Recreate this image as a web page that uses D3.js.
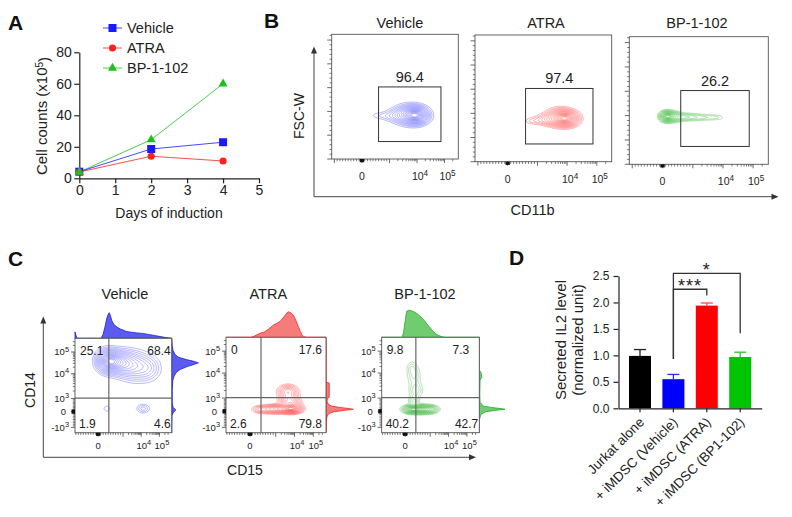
<!DOCTYPE html>
<html><head><meta charset="utf-8">
<script src="https://cdn.jsdelivr.net/npm/d3@7"></script>
<style>
body{margin:0;background:#fff;}
svg{display:block;}
</style></head><body>
<svg id="fig" width="792" height="517"></svg>
<script>
// ================= DATA =================
// Panel A
const days = [0, 2, 4];
const dayTicks = [0, 1, 2, 3, 4, 5];
const countTicks = [0, 20, 40, 60, 80];
const seriesNames = ["Vehicle", "ATRA", "BP-1-102"];
const vehicleCounts = [4.2, 18.6, 22.9];
const atraCounts = [4.0, 14.0, 11.0];
const bpCounts = [4.0, 24.5, 60.0];

// Panel B (CD11b vs FSC-W, display channel 0-100)
const treatments = ["Vehicle", "ATRA", "BP-1-102"];
const cd11bPercent = [96.4, 97.4, 26.2];
const cd11bGate = [37, 86.3, 14, 57.8];           // x0, x1, y0, y1 (channel)
// population components: [cx, cy, sx, sy, weight]
const vehicleCd11b = [[67,35,5,3.5,1.0],[61,35.5,6,4,0.55],[53,35,6,3,0.15],[44,34.5,6,2,0.05],[36,35,4,1.6,0.025]];
const atraCd11b    = [[67,34,4.5,3,1.0],[62,35,5,3.5,0.6],[55,33.5,5,2.5,0.25],[47,32.5,5,1.8,0.08],[41,32,3,1.5,0.03]];
const bpCd11b      = [[27,37.5,2.5,2,1.0],[31,37.3,3.5,2,0.5],[40,37,6,1.6,0.18],[52,36.8,6,1.4,0.08],[62,36.7,4,1.3,0.05]];
const bXAnchors = [[-1000,2.1],[0,23.9],[1000,45.7],[1e4,67.4],[1e5,89.1]];
const bYTicks = [0,10000,20000,30000,40000,50000,60000,70000,80000,90000,100000,110000,120000,130000,140000,150000,160000,170000,180000,190000,200000,210000,220000,230000,240000,250000,260000];
const bYMax = 262144;

// Panel C (CD15 vs CD14)
const quadVehicle = [25.1, 68.4, 1.9, 4.6];   // UL, UR, LL, LR
const quadAtra    = [0, 17.6, 2.6, 79.8];
const quadBp      = [9.8, 7.3, 40.2, 42.7];
const quadGate = [35, 36.7];                    // x, y channel
const vehicleCd15 = [[34,76,6,6,1.0],[42,75,7,6,0.75],[52,73,8,7,0.5],[64,70,9,8,0.32],[76,68,7,7,0.15],[33,25.5,2.5,2.2,0.06],[70.5,25.5,4,2.8,0.12]];
const atraCd15    = [[62,43,5,3.5,0.42],[63,35,5,3.5,0.4],[65,29,5,3,0.45],[66,25,5,2.3,1.0],[55,25,7,2.3,0.6],[43,24.5,7,2.2,0.3],[34,24.5,4,2,0.12]];
const bpCd15      = [[39,24.5,7,2.2,1.0],[30,24.5,4,2,0.6],[50,24.5,4,2,0.3],[33,33,3,4,0.12],[35,45,4,5,0.1],[33,60,4,6,0.08],[31,68,3,4,0.06]];
// histograms: [channel, relative count]
const vehicleCd15Hist = [[0,0.25],[1.5,0.05],[3,0],[27,0],[29,0.15],[31,0.45],[33,0.8],[34.5,0.95],[35.5,1.0],[36.5,0.9],[38,0.7],[40,0.55],[43,0.45],[47,0.36],[53,0.27],[58,0.24],[64,0.21],[70,0.19],[76,0.15],[82,0.11],[88,0.07],[94,0.03],[100,0]];
const vehicleCd14Hist = [[0,0],[10,0],[18,0.01],[21,0.05],[24,0.15],[27,0.05],[32,0.02],[45,0.02],[55,0.04],[60,0.09],[64,0.18],[67,0.32],[70,0.58],[72.5,0.86],[74,1.0],[75.5,0.85],[77.5,0.55],[80,0.25],[83,0.12],[87,0.05],[92,0.02],[100,0]];
const atraCd15Hist = [[0,0],[25,0],[28,0.04],[31,0.1],[34,0.16],[38,0.2],[42,0.3],[45,0.4],[47.5,0.48],[51,0.55],[54,0.62],[57,0.75],[59.5,0.88],[62,1.0],[64,0.97],[66,0.92],[68,0.82],[70,0.65],[72,0.45],[74,0.26],[76,0.1],[78,0.02],[81,0],[100,0]];
const atraCd14Hist = [[0,0],[12,0.01],[17,0.04],[20,0.1],[22,0.3],[23.5,0.7],[24.5,1.0],[25.3,0.85],[26.5,0.5],[28,0.2],[30,0.08],[33,0.04],[36,0.05],[37,0.12],[52,0.12],[53,0],[100,0]];
const bpCd15Hist = [[0,0],[21,0],[22.5,0.2],[24,0.6],[25.5,0.95],[28,1.0],[31,0.96],[34,0.92],[37.5,0.83],[41,0.72],[44,0.6],[46,0.5],[49,0.38],[52,0.25],[55,0.14],[58,0.07],[62,0.02],[65,0],[100,0]];
const bpCd14Hist = [[0,0],[14,0.01],[19,0.06],[22,0.25],[23.5,0.65],[24.5,1.0],[25.3,0.85],[26.5,0.45],[28,0.15],[32,0.03],[40,0.02],[55,0.03],[58,0.1],[62,0.08],[66,0],[100,0]];
const cXAnchors = [[-1000,-1.7],[0,24],[1000,49.7],[1e4,68.5],[1e5,87.3]];
const cYAnchors = [[-1000,5.6],[0,22.4],[1000,36.3],[1e4,62.5],[1e5,85.5]];

// Panel D
const il2Groups = ["Jurkat alone", "+ iMDSC (Vehicle)", "+ iMDSC (ATRA)", "+ iMDSC (BP1-102)"];
const il2Mean = [0.99, 0.55, 1.94, 0.97];
const il2Sem  = [0.12, 0.09, 0.05, 0.09];
const il2Ticks = [0, 0.5, 1.0, 1.5, 2.0, 2.5];
const sigTests = [
  {a: 1, b: 2, label: "***", top: 2.25, fromA: 0.93, fromB: 2.13},
  {a: 1, b: 3, label: "*",   top: 2.55, fromA: 0.93, fromB: 1.42}
];

// ================= DRAWING =================
const FONT = "'Liberation Sans', Arial, Helvetica, sans-serif";
const INK = "#222";
const svg = d3.select("#fig").attr("font-family", FONT);

function txt(g, x, y, s, o = {}) {
  const t = g.append("text").attr("x", x).attr("y", y)
    .attr("font-size", o.size || 14).attr("fill", o.fill || INK)
    .attr("text-anchor", o.anchor || "start");
  if (o.weight) t.attr("font-weight", o.weight);
  if (o.rotate !== undefined) t.attr("transform", `rotate(${o.rotate},${x},${y})`);
  if (o.ls) t.attr("letter-spacing", o.ls);
  t.text(s);
  return t;
}
function styleAxis(sel, fs) {
  sel.attr("font-family", FONT);
  sel.select(".domain").attr("stroke", INK).attr("stroke-width", 1.2);
  sel.selectAll(".tick line").attr("stroke", INK).attr("stroke-width", 1.2);
  sel.selectAll(".tick text").attr("fill", INK).attr("font-size", fs);
}
function arrowHead(g, x, y, dir) {
  const p = dir === "up" ? `M${x},${y} L${x-3},${y+7} L${x+3},${y+7} Z` : `M${x},${y} L${x-7},${y-3} L${x-7},${y+3} Z`;
  g.append("path").attr("d", p).attr("fill", "#333");
}

// ---------- Panel A ----------
const gA = svg.append("g");
const xA = d3.scaleLinear().domain([0, 5]).range([79.3, 259]);
const yA = d3.scaleLinear().domain([0, 80]).range([178.3, 52.3]);
gA.append("g").attr("transform", `translate(0,${yA(0)})`)
  .call(d3.axisBottom(xA).tickValues(dayTicks).tickFormat(d3.format("d")).tickSize(5).tickSizeOuter(0).tickPadding(2))
  .call(styleAxis, 14);
gA.append("g").attr("transform", `translate(${xA(0)},0)`)
  .call(d3.axisLeft(yA).tickValues(countTicks).tickSize(5).tickSizeOuter(0).tickPadding(2.5))
  .call(styleAxis, 14);
const seriesA = [
  {name: seriesNames[0], values: vehicleCounts, color: "#1a1aff", symbol: d3.symbolSquare, size: 64},
  {name: seriesNames[1], values: atraCounts, color: "#ff2020", symbol: d3.symbolCircle, size: 40},
  {name: seriesNames[2], values: bpCounts, color: "#1fbf1f", symbol: d3.symbolTriangle, size: 36}
];
const lineA = d3.line().x((d, i) => xA(days[i])).y(d => yA(d));
seriesA.slice().reverse().forEach(s => {
  gA.append("path").attr("d", lineA(s.values)).attr("fill", "none")
    .attr("stroke", s.color).attr("stroke-width", 1).attr("stroke-opacity", 0.8);
});
seriesA.forEach(s => {
  gA.append("g").selectAll("path").data(s.values).join("path")
    .attr("transform", (d, i) => `translate(${xA(days[i])},${yA(d)})`)
    .attr("d", d3.symbol(s.symbol, s.size)()).attr("fill", s.color);
});
seriesA.forEach((s, i) => {
  const y = 28 + i * 20;
  gA.append("line").attr("x1", 103).attr("x2", 122).attr("y1", y).attr("y2", y)
    .attr("stroke", s.color).attr("stroke-width", 1).attr("stroke-opacity", 0.8);
  gA.append("path").attr("transform", `translate(112.5,${y})`)
    .attr("d", d3.symbol(s.symbol, s.size)()).attr("fill", s.color);
  txt(gA, 127, y + 5, s.name, {size: 14.5});
});
txt(gA, 169, 218, "Days of induction", {size: 14, anchor: "middle"});
{
  const t = gA.append("text").attr("transform", "translate(47,116) rotate(-90)")
    .attr("text-anchor", "middle").attr("font-size", 15).attr("fill", INK);
  t.append("tspan").text("Cell counts (x10");
  t.append("tspan").attr("dy", "-0.45em").attr("font-size", 10).text("5");
  t.append("tspan").attr("dy", "0.45em").text(")");
}
txt(svg, 8, 30, "A", {size: 21, weight: "bold", fill: "#111"});

// ---------- flow helpers ----------
const contourLevels = [0.02, 0.04, 0.065, 0.1, 0.14, 0.19, 0.25, 0.32, 0.4, 0.48, 0.56, 0.64, 0.72, 0.8, 0.87, 0.93];
function anchorMap(anchors, v) {
  for (let a = 0; a < anchors.length - 1; a++) {
    const [v0, c0] = anchors[a], [v1, c1] = anchors[a + 1];
    if (v <= v1 || a === anchors.length - 2) {
      if (Math.abs(v0) <= 1000 && Math.abs(v1) <= 1000) return c0 + (c1 - c0) * (v - v0) / (v1 - v0);
      return c0 + (c1 - c0) * Math.log10(v / v0);
    }
  }
}
function minorTicks(anchors) {
  const out = [];
  for (let a = 0; a < anchors.length - 1; a++) {
    const [v0, c0] = anchors[a], [v1, c1] = anchors[a + 1];
    if (Math.abs(v0) <= 1000 && Math.abs(v1) <= 1000) {
      for (let k = 1; k < 10; k++) out.push(c0 + (c1 - c0) * k / 10);
    } else {
      for (let k = 2; k < 10; k++) out.push(c0 + (c1 - c0) * Math.log10(k));
    }
  }
  const [vl, cl] = anchors[anchors.length - 1], [vp, cp] = anchors[anchors.length - 2];
  for (let k = 2; k < 10; k++) { const c = cl + (cl - cp) * Math.log10(k); if (c <= 98.5) out.push(c); }
  return out.filter(c => c >= 0.5 && c <= 99.5);
}
function drawContours(g, xs, ys, comps, color, op) {
  const n = 200;
  const vals = new Float64Array(n * n);
  let mx = 0;
  for (let j = 0; j < n; j++) {
    const y = (j + 0.5) * 100 / n;
    for (let i = 0; i < n; i++) {
      const x = (i + 0.5) * 100 / n;
      let s = 0;
      for (const [cx, cy, sx, sy, w] of comps) {
        const dx = (x - cx) / sx, dy = (y - cy) / sy;
        s += w * Math.exp(-0.5 * (dx * dx + dy * dy));
      }
      vals[j * n + i] = s;
      if (s > mx) mx = s;
    }
  }
  const cs = d3.contours().size([n, n]).thresholds(contourLevels.map(l => l * mx))(vals);
  const proj = d3.geoTransform({point(x, y) { this.stream.point(xs(x * 100 / n), ys(y * 100 / n)); }});
  const path = d3.geoPath(proj);
  g.append("g").selectAll("path").data(cs).join("path")
    .attr("d", path).attr("fill", "none").attr("stroke", color)
    .attr("stroke-width", 0.5).attr("stroke-opacity", op);
}
function expLabel(g, x, y, base, sup, anchor, size) {
  const t = g.append("text").attr("x", x).attr("y", y).attr("text-anchor", anchor)
    .attr("font-size", size).attr("fill", INK);
  t.append("tspan").text(base);
  if (sup) t.append("tspan").attr("dy", "-0.5em").attr("font-size", size * 0.78).text(sup);
  return t;
}
function frame(g, box) {
  g.append("rect").attr("x", box.x0).attr("y", box.y0)
    .attr("width", box.x1 - box.x0).attr("height", box.y1 - box.y0)
    .attr("fill", "none").attr("stroke", "#555").attr("stroke-width", 0.9);
}
function bottomTicks(g, xs, y, anchors) {
  minorTicks(anchors).forEach(c => g.append("line").attr("x1", xs(c)).attr("x2", xs(c)).attr("y1", y).attr("y2", y + 2.2).attr("stroke", "#444").attr("stroke-width", 0.7));
  anchors.forEach(([v, c]) => { if (c >= 0 && c <= 100) g.append("line").attr("x1", xs(c)).attr("x2", xs(c)).attr("y1", y).attr("y2", y + 4).attr("stroke", "#444").attr("stroke-width", 0.8); });
  const z = xs(anchorMap(anchors, 0));
  g.append("rect").attr("x", z - 2.2).attr("y", y).attr("width", 4.4).attr("height", 3.2).attr("fill", "#111");
}

// ---------- Panel B ----------
const gB = svg.append("g");
const bPanels = [
  {comps: vehicleCd11b, color: "#3535ff", box: {x0: 331.7, x1: 458.3, y0: 34.3, y1: 159}, tx: 400},
  {comps: atraCd11b, color: "#ff2b2b", box: {x0: 475, x1: 611.7, y0: 35, y1: 161.7}, tx: 546},
  {comps: bpCd11b, color: "#2eb52e", box: {x0: 629.3, x1: 768.3, y0: 36.7, y1: 164.3}, tx: 697}
];
bPanels.forEach((p, k) => {
  const b = p.box;
  const xs = d3.scaleLinear().domain([0, 100]).range([b.x0, b.x1]);
  const ys = d3.scaleLinear().domain([0, 100]).range([b.y1, b.y0]);
  drawContours(gB, xs, ys, p.comps, p.color, 0.75);
  frame(gB, b);
  // gate
  gB.append("rect").attr("x", xs(cd11bGate[0])).attr("y", ys(cd11bGate[3]))
    .attr("width", xs(cd11bGate[1]) - xs(cd11bGate[0])).attr("height", ys(cd11bGate[2]) - ys(cd11bGate[3]))
    .attr("fill", "none").attr("stroke", "#333").attr("stroke-width", 1);
  txt(gB, (xs(cd11bGate[0]) + xs(cd11bGate[1])) / 2, ys(cd11bGate[3]) - 5, d3.format(".1f")(cd11bPercent[k]), {size: 14.5, anchor: "middle"});
  // y ticks (linear FSC-W)
  bYTicks.forEach(v => {
    const major = v % 50000 === 0;
    const y = ys(v / bYMax * 100);
    gB.append("line").attr("x1", b.x0 - (major ? 4.5 : 2.2)).attr("x2", b.x0).attr("y1", y).attr("y2", y)
      .attr("stroke", "#444").attr("stroke-width", major ? 0.8 : 0.7);
  });
  bottomTicks(gB, xs, b.y1, bXAnchors);
  expLabel(gB, xs(anchorMap(bXAnchors, 0)), b.y1 + 21, "0", null, "middle", 10.5);
  expLabel(gB, xs(anchorMap(bXAnchors, 1e4)) + 3, b.y1 + 21, "10", "4", "middle", 10.5);
  expLabel(gB, xs(anchorMap(bXAnchors, 1e5)) + 3, b.y1 + 21, "10", "5", "middle", 10.5);
  txt(gB, p.tx, 27.8, treatments[k], {size: 14.5, anchor: "middle"});
});
gB.append("line").attr("x1", 314).attr("x2", 314).attr("y1", 196.7).attr("y2", 50).attr("stroke", "#444").attr("stroke-width", 1);
gB.append("line").attr("x1", 314).attr("x2", 774).attr("y1", 196.7).attr("y2", 196.7).attr("stroke", "#444").attr("stroke-width", 1);
arrowHead(gB, 314, 46.5, "up");
arrowHead(gB, 778.5, 196.7, "right");
txt(gB, 304.3, 116, "FSC-W", {size: 14, anchor: "middle", rotate: -90});
txt(gB, 532.5, 215, "CD11b", {size: 14.5, anchor: "middle"});
txt(svg, 264, 28, "B", {size: 21, weight: "bold", fill: "#111"});

// ---------- Panel C ----------
const gC = svg.append("g");
const cPanels = [
  {comps: vehicleCd15, quad: quadVehicle, topH: vehicleCd15Hist, rightH: vehicleCd14Hist, color: "#3a3aff", fill: "#5b5bef", edge: "#1d1de0",
   box: {x0: 75, x1: 171.7, y0: 338.3, y1: 432.7}, tx: 125, topMax: 25.6, rightMax: 26.6, urOff: 1},
  {comps: atraCd15, quad: quadAtra, topH: atraCd15Hist, rightH: atraCd14Hist, color: "#ff3030", fill: "#f67b7b", edge: "#ff2020",
   box: {x0: 226, x1: 326, y0: 337.3, y1: 432.7}, tx: 268.3, topMax: 25.6, rightMax: 27.3, urOff: 4},
  {comps: bpCd15, quad: quadBp, topH: bpCd15Hist, rightH: bpCd14Hist, color: "#33b533", fill: "#6fcc6f", edge: "#2aaa2a",
   box: {x0: 381.7, x1: 479.3, y0: 337.3, y1: 432.7}, tx: 425, topMax: 27.3, rightMax: 25.7, urOff: 6}
];
cPanels.forEach((p, k) => {
  const b = p.box;
  const xs = d3.scaleLinear().domain([0, 100]).range([b.x0, b.x1]);
  const ys = d3.scaleLinear().domain([0, 100]).range([b.y1, b.y0]);
  // histograms
  const hTop = d3.scaleLinear().domain([0, 1]).range([0, p.topMax]);
  const hRight = d3.scaleLinear().domain([0, 1]).range([0, p.rightMax]);
  gC.append("path").datum(p.topH)
    .attr("d", d3.area().x(d => xs(d[0])).y0(b.y0).y1(d => b.y0 - hTop(d[1])))
    .attr("fill", p.fill).attr("stroke", p.edge).attr("stroke-width", 0.8);
  gC.append("path").datum(p.rightH)
    .attr("d", d3.area().y(d => ys(d[0])).x0(b.x1).x1(d => b.x1 + hRight(d[1])))
    .attr("fill", p.fill).attr("stroke", p.edge).attr("stroke-width", 0.8);
  gC.append("rect").attr("x", b.x0).attr("y", b.y0).attr("width", b.x1 - b.x0).attr("height", b.y1 - b.y0).attr("fill", "#fff");
  drawContours(gC, xs, ys, p.comps, p.color, 0.75);
  // quadrant lines
  gC.append("line").attr("x1", xs(quadGate[0])).attr("x2", xs(quadGate[0])).attr("y1", b.y0).attr("y2", b.y1).attr("stroke", "#666").attr("stroke-width", 1.2);
  gC.append("line").attr("x1", b.x0).attr("x2", b.x1).attr("y1", ys(quadGate[1])).attr("y2", ys(quadGate[1])).attr("stroke", "#666").attr("stroke-width", 1.2);
  frame(gC, b);
  // quadrant values
  const f = d3.format(".1f");
  const fq = v => v === 0 ? "0" : f(v);
  txt(gC, b.x0 + 5, b.y0 + 17, fq(p.quad[0]), {size: 12});
  txt(gC, b.x1 - p.urOff - (k === 2 ? 4 : 0), b.y0 + 17, fq(p.quad[1]), {size: 12, anchor: "end"});
  txt(gC, b.x0 + 4, b.y1 - 5, fq(p.quad[2]), {size: 12});
  txt(gC, b.x1 - p.urOff + (k === 2 ? 5 : 0), b.y1 - 5, fq(p.quad[3]), {size: 12, anchor: "end"});
  // axes ticks
  bottomTicks(gC, xs, b.y1, cXAnchors);
  minorTicks(cYAnchors).forEach(c => gC.append("line").attr("x1", b.x0 - 2.2).attr("x2", b.x0).attr("y1", ys(c)).attr("y2", ys(c)).attr("stroke", "#444").attr("stroke-width", 0.7));
  cYAnchors.forEach(([v, c]) => gC.append("line").attr("x1", b.x0 - 4).attr("x2", b.x0).attr("y1", ys(c)).attr("y2", ys(c)).attr("stroke", "#444").attr("stroke-width", 0.8));
  gC.append("rect").attr("x", b.x0 - 3.5).attr("y", ys(anchorMap(cYAnchors, 0)) - 2.2).attr("width", 3.5).attr("height", 4.4).attr("fill", "#111");
  const ly = v => ys(anchorMap(cYAnchors, v)) + 3.5;
  expLabel(gC, b.x0 - 6, ly(1e5), "10", "5", "end", 9.5);
  expLabel(gC, b.x0 - 6, ly(1e4), "10", "4", "end", 9.5);
  expLabel(gC, b.x0 - 6, ly(1e3), "10", "3", "end", 9.5);
  expLabel(gC, b.x0 - 9, ly(0), "0", null, "end", 9.5);
  expLabel(gC, b.x0 - 6, ly(-1000), "-10", "3", "end", 9.5);
  expLabel(gC, xs(anchorMap(cXAnchors, 0)), b.y1 + 16.5, "0", null, "middle", 9.5);
  expLabel(gC, xs(anchorMap(cXAnchors, 1e4)) + 2.5, b.y1 + 16.5, "10", "4", "middle", 9.5);
  expLabel(gC, xs(anchorMap(cXAnchors, 1e5)) + 2.5, b.y1 + 16.5, "10", "5", "middle", 9.5);
  txt(gC, p.tx, 298.5, treatments[k], {size: 14.5, anchor: "middle"});
});
gC.append("line").attr("x1", 43.3).attr("x2", 43.3).attr("y1", 457.3).attr("y2", 320).attr("stroke", "#444").attr("stroke-width", 1);
gC.append("line").attr("x1", 43.3).attr("x2", 471).attr("y1", 457.3).attr("y2", 457.3).attr("stroke", "#444").attr("stroke-width", 1);
arrowHead(gC, 43.3, 316.5, "up");
arrowHead(gC, 476, 457.3, "right");
txt(gC, 35, 390, "CD14", {size: 14, anchor: "middle", rotate: -90});
txt(gC, 245, 475, "CD15", {size: 14, anchor: "middle"});
txt(svg, 8, 266, "C", {size: 21, weight: "bold", fill: "#111"});

// ---------- Panel D ----------
const gD = svg.append("g");
const xD = d3.scaleBand().domain(il2Groups).range([618.5, 761.7]).paddingInner(0.341).paddingOuter(0.314);
const yD = d3.scaleLinear().domain([0, 2.5]).range([408.3, 276]);
const barColors = ["#000000", "#0000ff", "#ff0000", "#00c400"];
const errColors = ["#222222", "#2a2aff", "#ff4a4a", "#2ac42a"];
gD.append("g").selectAll("rect").data(il2Mean).join("rect")
  .attr("x", (d, i) => xD(il2Groups[i])).attr("width", xD.bandwidth())
  .attr("y", d => yD(d)).attr("height", d => yD(0) - yD(d))
  .attr("fill", (d, i) => barColors[i]);
il2Mean.forEach((m, i) => {
  const cx = xD(il2Groups[i]) + xD.bandwidth() / 2;
  gD.append("line").attr("x1", cx).attr("x2", cx).attr("y1", yD(m)).attr("y2", yD(m + il2Sem[i])).attr("stroke", errColors[i]).attr("stroke-width", 1.3);
  gD.append("line").attr("x1", cx - 6).attr("x2", cx + 6).attr("y1", yD(m + il2Sem[i])).attr("y2", yD(m + il2Sem[i])).attr("stroke", errColors[i]).attr("stroke-width", 1.3);
});
gD.append("g").attr("transform", `translate(${xD.range()[0]},0)`)
  .call(d3.axisLeft(yD).tickValues(il2Ticks).tickFormat(d3.format(".1f")).tickSize(5).tickSizeOuter(0).tickPadding(4))
  .call(styleAxis, 12);
gD.append("g").attr("transform", `translate(0,${yD(0)})`)
  .call(d3.axisBottom(xD).tickSize(4).tickSizeOuter(0).tickFormat(""))
  .call(styleAxis, 12);
il2Groups.forEach(g => {
  const cx = xD(g) + xD.bandwidth() / 2;
  txt(gD, cx + 5, 423, g, {size: 13.5, anchor: "end", rotate: -45});
});
sigTests.forEach(s => {
  const xa = xD(il2Groups[s.a]) + xD.bandwidth() / 2, xb = xD(il2Groups[s.b]) + xD.bandwidth() / 2;
  gD.append("path").attr("d", `M${xa},${yD(s.fromA)} L${xa},${yD(s.top)} L${xb},${yD(s.top)} L${xb},${yD(s.fromB)}`)
    .attr("fill", "none").attr("stroke", "#333").attr("stroke-width", 1.3);
  txt(gD, (xa + xb) / 2, yD(s.top) + 2.5, s.label, {size: 18, anchor: "middle", ls: 1});
});
{
  txt(gD, 566.3, 340, "Secreted IL2 level", {size: 15, anchor: "middle", rotate: -90});
  txt(gD, 582.5, 340, "(normalized unit)", {size: 15, anchor: "middle", rotate: -90});
}
txt(svg, 509, 265, "D", {size: 21, weight: "bold", fill: "#111"});
</script>
</body></html>
